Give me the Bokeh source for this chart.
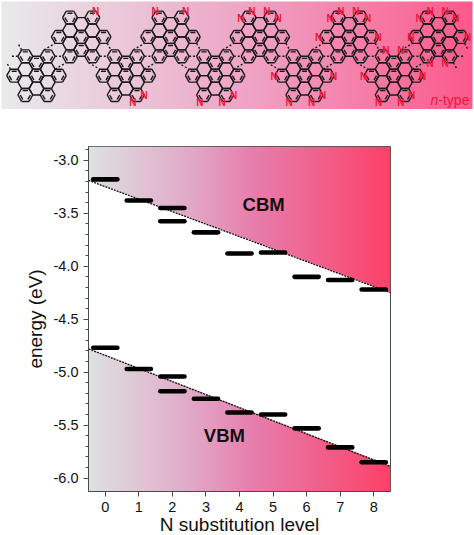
import numpy as np
from bokeh.plotting import figure
from bokeh.models import FixedTicker, NumeralTickFormatter
from bokeh.core.properties import value
from bokeh.embed import file_html
from bokeh.resources import INLINE

cbm_levels = [0, 1, 2, 2, 3, 4, 5, 6, 7, 8]
cbm_values = [-3.18, -3.38, -3.45, -3.576, -3.68, -3.88, -3.87, -4.10, -4.13, -4.22]
vbm_levels = [0, 1, 2, 2, 3, 4, 5, 6, 7, 8]
vbm_values = [-4.77, -4.97, -5.04, -5.18, -5.25, -5.38, -5.40, -5.53, -5.71, -5.85]
cbm_trend_y = [-3.19, -4.25]
vbm_trend_y = [-4.78, -5.89]
trend_x = [-0.5, 8.5]
x_ticks = [0, 1, 2, 3, 4, 5, 6, 7, 8]
y_ticks = [-3.0, -3.5, -4.0, -4.5, -5.0, -5.5, -6.0]
y_minor = [round(-2.9 - 0.1 * i, 1) for i in range(32)]

grad_stops = [0, 0.33, 0.55, 1]
chart_rgb = [(222, 226, 226), (226, 170, 200), (232, 125, 172), (253, 65, 105)]
banner_rgb = [(232, 235, 235), (236, 190, 212), (240, 160, 195), (252, 90, 140)]


def gradient(nx, ny, rgb):
    t = np.linspace(0, 1, nx)
    img = np.zeros((ny, nx, 4), dtype=np.uint8)
    for k in range(3):
        img[:, :, k] = np.interp(t, grad_stops, [c[k] for c in rgb])[None, :]
    img[:, :, 3] = 255
    return img


def packed(img):
    return img.view(dtype=np.uint32).reshape(img.shape[:2])


# ---- banner: chevron ribbon drawn on a hexagon lattice
COL = 11.167
S = COL / 1.5
H = S * np.sqrt(3) / 2
Y0 = 55.8
LOWER_X = [36 + 89.33 * i for i in range(5)]
UPPER_X = [80.67 + 89.33 * i for i in range(5)]
upper_rings = [(-2, -3), (-1, -6), (-1, -4), (-1, -2), (-1, 0), (0, -5), (0, -3), (0, -1),
               (1, -6), (1, -4), (1, -2), (1, 0), (2, -3)]
upper_clar = [(-2, -3), (-1, -6), (-1, 0), (0, -3), (0, -1), (1, -6), (1, 0), (2, -3)]
n_x = [285, 431, 397, 464, 555, 598, 665, 699, 721, 754, 799, 833, 821, 866, 933, 966, 999,
       954, 989, 1021, 1066, 1101, 1133, 1089, 1134, 1201, 1233, 1266, 1156, 1201,
       1231, 1256, 1289, 1334, 1366, 1401, 1289, 1334]
n_y = [33, 285, 305, 33, 33, 305, 305, 285, 53, 33, 33, 53, 228, 305, 305, 285, 228,
       112, 53, 33, 33, 53, 112, 228, 305, 305, 285, 228, 150, 150,
       112, 53, 33, 33, 53, 112, 190, 190]

ANG = np.deg2rad(np.arange(0, 360, 60))


def verts(cx, cy, r=S):
    return [(cx + r * np.cos(a), cy + r * np.sin(a)) for a in ANG]


def pos(cx, col, h, sign):
    return cx + col * COL, Y0 + sign * h * H


bx0, bx1, by0, by1 = [], [], [], []
dx0, dx1, dy0, dy1 = [], [], [], []


def add(lst, a, b):
    lst[0].append(a[0]); lst[1].append(b[0]); lst[2].append(a[1]); lst[3].append(b[1])


solid = (bx0, bx1, by0, by1)
dash = (dx0, dx1, dy0, dy1)
for sign, centres in ((1, UPPER_X), (-1, LOWER_X)):
    for c in centres:
        for col, h in upper_rings:
            x, y = pos(c, col, h, sign)
            v = verts(x, y)
            for i in range(6):
                add(solid, v[i], v[(i + 1) % 6])
            if (col, h) in upper_clar:
                w = verts(x, y, S * 0.68)
                for i in (0, 2, 4):
                    add(solid, w[i], w[(i + 1) % 6])

# links between neighbouring units
for i, c in enumerate(LOWER_X):
    a = verts(*pos(c, 1, 0, -1))
    b = verts(*pos(c, 3, 0, 1))
    t = verts(*pos(c, 2, -3, 1))
    m = verts(*pos(c, 2, -3, -1))
    add(dash, a[0], b[3])
    add(dash, a[4], t[2])
    add(dash, m[4], b[2])
for c in UPPER_X[:-1]:
    a = verts(*pos(c, 1, 0, 1))
    b = verts(*pos(c, 3, 0, -1))
    t = verts(*pos(c, 2, -3, 1))
    m = verts(*pos(c, 2, -3, -1))
    add(dash, a[0], b[3])
    add(dash, a[2], m[4])
    add(dash, t[1], b[4])

# open ends of the ribbon
lv = verts(*pos(LOWER_X[0], -1, 0, -1))
lm = verts(*pos(LOWER_X[0], -2, -3, -1))
add(dash, lv[3], (lv[3][0] - S, lv[3][1]))
add(dash, lv[4], (lv[4][0] - S * 0.5, lv[4][1] - H))
add(dash, lm[4], (lm[4][0] - S * 0.5, lm[4][1] - H))
rv = verts(*pos(UPPER_X[-1], 1, 0, 1))
rt = verts(*pos(UPPER_X[-1], 2, -3, 1))
add(dash, rv[0], (rv[0][0] + S, rv[0][1]))
add(dash, rv[1], (rv[1][0] + S * 0.5, rv[1][1] + H))
add(dash, rt[1], (rt[1][0] + S * 0.5, rt[1][1] + H))

banner = figure(frame_width=474, frame_height=110, x_range=(0, 474), y_range=(110, 0),
                x_axis_location=None, y_axis_location=None,
                toolbar_location=None, output_backend="svg",
                margin=(0, 0, 0, 0), min_border_left=0, min_border_right=0,
                min_border_top=0, min_border_bottom=0)
banner.grid.visible = False
banner.outline_line_color = None
banner.background_fill_color = "white"
banner.image_rgba(image=[packed(gradient(471, 2, banner_rgb))], x=1, y=1, dw=471, dh=107.5)
banner.segment(bx0, by0, bx1, by1, line_color="#1a1a1a", line_width=1.4)
banner.segment(dx0, dy0, dx1, dy1, line_color="#1a1a1a", line_width=1.4, line_dash="2 2")
banner.text(np.array(n_x) / 3, np.array(n_y) / 3, text=["N"] * len(n_x), text_color="#f5153f",
            text_font=value("Liberation Sans"), text_font_size="10px", text_font_style="bold",
            text_align="center", text_baseline="middle")
banner.text([430], [99], text=["n"], text_color="#f5153f", text_font=value("Liberation Sans"),
            text_font_style="italic", text_font_size="14px", text_align="left", text_baseline="middle")
banner.text([437.8], [99], text=["-type"], text_color="#f5153f", text_font=value("Liberation Sans"),
            text_font_size="14px", text_align="left", text_baseline="middle")

# ---- chart
XR = (-0.5, 8.5)
YR = (-6.126, -2.87)
p = figure(frame_width=302, frame_height=345, x_range=XR, y_range=YR, toolbar_location=None,
           output_backend="svg", min_border_left=88, min_border_right=80,
           min_border_top=36, min_border_bottom=43, margin=(0, 0, 0, 0))
p.grid.visible = False

nx, ny = 604, 690
img = gradient(nx, ny, chart_rgb)
xs = np.linspace(*XR, nx)
ys = np.linspace(YR[0], YR[1], ny)
top_line = np.interp(xs, trend_x, cbm_trend_y)
bot_line = np.interp(xs, trend_x, vbm_trend_y)
X, Y = np.meshgrid(xs, ys)
img[:, :, 3] = np.where((Y >= top_line[None, :]) | (Y <= bot_line[None, :]), 255, 0)
p.image_rgba(image=[packed(img)], x=XR[0], y=YR[0], dw=XR[1] - XR[0], dh=YR[1] - YR[0])

p.line(trend_x, cbm_trend_y, line_color="#111111", line_width=1.3, line_dash="2 1")
p.line(trend_x, vbm_trend_y, line_color="#111111", line_width=1.3, line_dash="2 1")

HW = 0.36
for lv_, vals in ((cbm_levels, cbm_values), (vbm_levels, vbm_values)):
    p.segment([l - HW for l in lv_], vals, [l + HW for l in lv_], vals, line_color="black",
              line_width=4.6, line_cap="round")

p.text([4.72], [-3.42], text=["CBM"], text_font=value("Liberation Sans"), text_font_style="bold",
       text_font_size="18.5px", text_color="#111111", text_align="center", text_baseline="middle")
p.text([3.55], [-5.6], text=["VBM"], text_font=value("Liberation Sans"), text_font_style="bold",
       text_font_size="18.5px", text_color="#111111", text_align="center", text_baseline="middle")

p.xaxis.ticker = FixedTicker(ticks=x_ticks)
p.yaxis.ticker = FixedTicker(ticks=y_ticks, minor_ticks=y_minor)
p.yaxis.formatter = NumeralTickFormatter(format="0.0")
for ax in (p.xaxis[0], p.yaxis[0]):
    ax.axis_line_color = "#444c4c"
    ax.major_tick_line_color = "#444c4c"
    ax.major_tick_out = 5
    ax.major_tick_in = 0
    ax.major_label_text_font = "Liberation Sans"
    ax.major_label_text_font_size = "14.5px"
    ax.major_label_text_color = "#111111"
    ax.major_label_standoff = 5
    ax.axis_label_text_font = "Liberation Sans"
    ax.axis_label_text_font_size = "19px"
    ax.axis_label_text_font_style = "normal"
    ax.axis_label_text_color = "#111111"
p.xaxis.axis_label_standoff = -1
p.yaxis.axis_label_standoff = 5
p.xaxis.minor_tick_line_color = None
p.yaxis.minor_tick_line_color = "#444c4c"
p.yaxis.minor_tick_out = 3
p.yaxis.minor_tick_in = 0
p.xaxis.axis_label = "N substitution level"
p.yaxis.axis_label = "energy (eV)"
p.outline_line_color = "#444c4c"
p.outline_line_width = 1

open("out.html", "w").write(file_html((banner, p), INLINE))
